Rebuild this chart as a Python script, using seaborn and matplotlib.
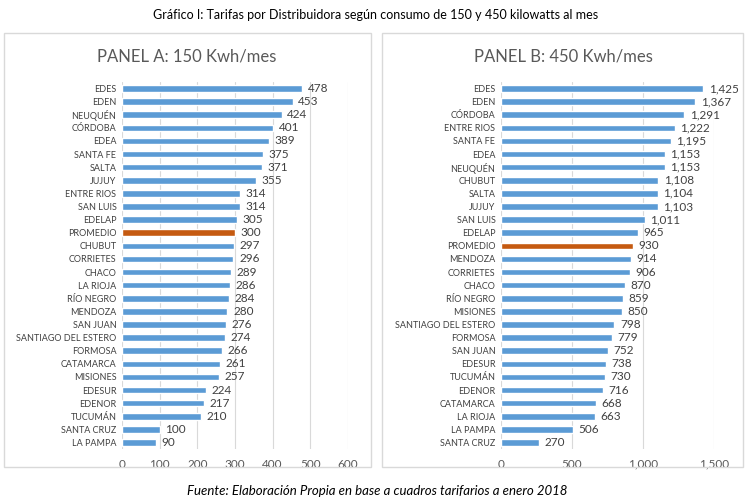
import matplotlib
matplotlib.use("Agg")
import matplotlib.pyplot as plt
from matplotlib.patches import Rectangle
import seaborn as sns
import pandas as pd

# Panel A: 150 kWh/mes
cats_a = ["EDES", "EDEN", "NEUQUÉN", "CÓRDOBA", "EDEA", "SANTA FE", "SALTA", "JUJUY",
          "ENTRE RIOS", "SAN LUIS", "EDELAP", "PROMEDIO", "CHUBUT", "CORRIETES", "CHACO",
          "LA RIOJA", "RÍO NEGRO", "MENDOZA", "SAN JUAN", "SANTIAGO DEL ESTERO", "FORMOSA",
          "CATAMARCA", "MISIONES", "EDESUR", "EDENOR", "TUCUMÁN", "SANTA CRUZ", "LA PAMPA"]
vals_a = [478, 453, 424, 401, 389, 375, 371, 355, 314, 314, 305, 300, 297, 296, 289,
          286, 284, 280, 276, 274, 266, 261, 257, 224, 217, 210, 100, 90]

# Panel B: 450 kWh/mes
cats_b = ["EDES", "EDEN", "CÓRDOBA", "ENTRE RIOS", "SANTA FE", "EDEA", "NEUQUÉN", "CHUBUT",
          "SALTA", "JUJUY", "SAN LUIS", "EDELAP", "PROMEDIO", "MENDOZA", "CORRIETES", "CHACO",
          "RÍO NEGRO", "MISIONES", "SANTIAGO DEL ESTERO", "FORMOSA", "SAN JUAN", "EDESUR",
          "TUCUMÁN", "EDENOR", "CATAMARCA", "LA RIOJA", "LA PAMPA", "SANTA CRUZ"]
vals_b = [1425, 1367, 1291, 1222, 1195, 1153, 1153, 1108, 1104, 1103, 1011, 965, 930, 914,
          906, 870, 859, 850, 798, 779, 752, 738, 730, 716, 668, 663, 506, 270]

BLUE = "#5B9BD5"
ORANGE = "#C55A11"
GRID = "#D9D9D9"
TXT = "#404040"

sns.set_style("white")
plt.rcParams["font.family"] = ["Lato", "DejaVu Sans"]

W, H = 751, 501
fig = plt.figure(figsize=(W / 100, H / 100), dpi=100)


def px_axes(x0, x1, y0, y1):
    return fig.add_axes([x0 / W, 1 - y1 / H, (x1 - x0) / W, (y1 - y0) / H])


def draw_panel(ax, cats, vals, xmax, step, fmt):
    df = pd.DataFrame({"cat": cats, "val": vals})
    pal = {c: (ORANGE if c == "PROMEDIO" else BLUE) for c in cats}
    sns.barplot(data=df, x="val", y="cat", hue="cat", palette=pal, legend=False,
                orient="h", width=0.5, saturation=1, ax=ax)
    ax.set_xlim(0, xmax)
    ax.set_ylim(len(cats) - 0.5, -0.5)
    ax.set_xticks(range(0, xmax + 1, step))
    ax.set_xticklabels([fmt(t) for t in range(0, xmax + 1, step)])
    ax.grid(axis="x", color=GRID, lw=0.8)
    ax.set_axisbelow(True)
    for s in ax.spines.values():
        s.set_visible(False)
    ax.tick_params(axis="x", length=0, labelsize=8.5, labelcolor="#595959", pad=7)
    ax.tick_params(axis="y", length=0, labelsize=6.5, labelcolor=TXT, pad=4)
    ax.set_xlabel("")
    ax.set_ylabel("")
    for cont in ax.containers:
        ax.bar_label(cont, labels=[fmt(v) for v in cont.datavalues], padding=4,
                     fontsize=8.5, color=TXT)


ax_a = px_axes(122, 348, 82, 449)
draw_panel(ax_a, cats_a, vals_a, 600, 100, lambda v: f"{v:,.0f}")
ax_b = px_axes(501, 714, 82, 449)
draw_panel(ax_b, cats_b, vals_b, 1500, 500, lambda v: f"{v:,.0f}")

# panel frames
for x0, x1 in [(4, 371), (382, 743)]:
    fig.add_artist(Rectangle((x0 / W, 1 - 467 / H), (x1 - x0) / W, (467 - 33) / H,
                             transform=fig.transFigure, fill=False, ec=GRID, lw=1))

fig.text(187 / W, 1 - 56 / H, "PANEL A: 150 Kwh/mes", ha="center", va="center",
         fontsize=12, color="#595959")
fig.text(563 / W, 1 - 56 / H, "PANEL B: 450 Kwh/mes", ha="center", va="center",
         fontsize=12, color="#595959")
fig.text(376 / W, 1 - 15 / H,
         "Gráfico I: Tarifas por Distribuidora según consumo de 150 y 450 kilowatts al mes",
         ha="center", va="center", fontsize=9, color="black")
fig.text(377 / W, 1 - 491 / H,
         "Fuente: Elaboración Propia en base a cuadros tarifarios a enero 2018",
         ha="center", va="center", fontsize=9.5, style="italic", color="black")

fig.savefig("out.png", dpi=100)
